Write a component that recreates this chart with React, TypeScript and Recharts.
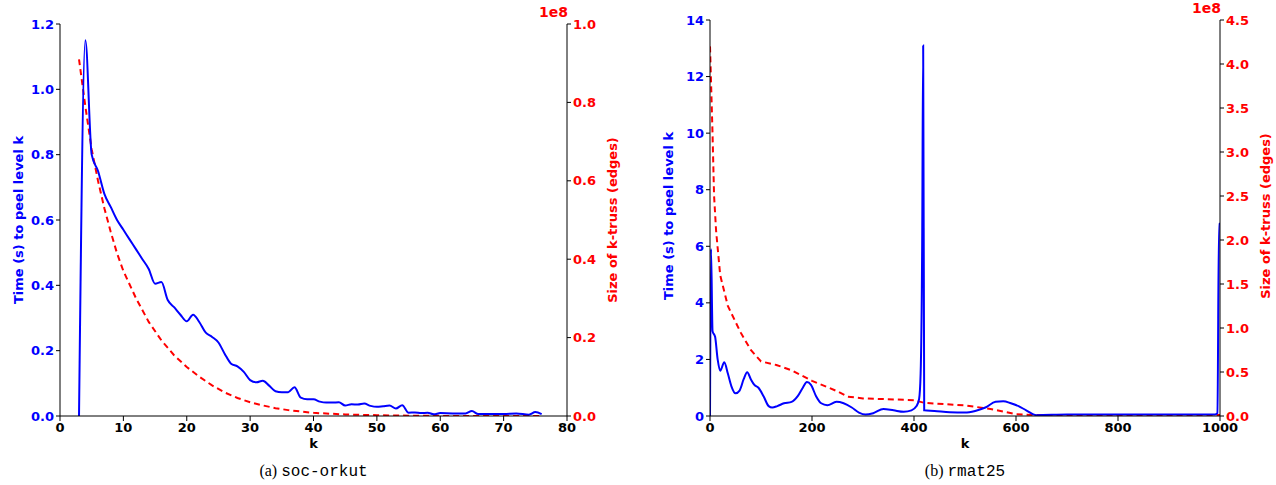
import { LineChart, Line, XAxis, YAxis } from 'recharts'

// (a) soc-orkut
const orkutK = [3, 4, 5, 6, 7, 8, 9, 10, 11, 12, 13, 14, 15, 16, 17, 18, 19, 20, 21, 22, 23, 24, 25, 26, 27, 28, 29, 30, 31, 32, 33, 34, 35, 36, 37, 38, 39, 40, 41, 42, 43, 44, 45, 46, 47, 48, 49, 50, 51, 52, 53, 54, 55, 56, 57, 58, 59, 60, 62, 64, 65, 66, 68, 70, 72, 74, 75, 76]
const orkutTime = [0, 1.15, 0.8, 0.75, 0.68, 0.64, 0.6, 0.57, 0.54, 0.51, 0.48, 0.45, 0.405, 0.41, 0.355, 0.333, 0.31, 0.29, 0.31, 0.287, 0.255, 0.242, 0.225, 0.19, 0.16, 0.152, 0.135, 0.11, 0.103, 0.108, 0.093, 0.076, 0.073, 0.073, 0.088, 0.056, 0.051, 0.051, 0.044, 0.041, 0.041, 0.042, 0.032, 0.036, 0.035, 0.038, 0.031, 0.028, 0.03, 0.032, 0.023, 0.033, 0.01, 0.011, 0.009, 0.01, 0.005, 0.009, 0.008, 0.008, 0.015, 0.006, 0.006, 0.006, 0.008, 0.004, 0.012, 0.006]
const orkutSizeK = [3, 4, 5, 6, 7, 8, 9, 10, 12, 14, 16, 18, 20, 22, 24, 26, 28, 30, 32, 34, 36, 40, 45, 50, 55, 60, 65, 70, 76]
const orkutSize = [0.91, 0.79, 0.68, 0.6, 0.53, 0.47, 0.415, 0.37, 0.3, 0.24, 0.193, 0.155, 0.125, 0.1, 0.078, 0.06, 0.046, 0.035, 0.027, 0.02, 0.015, 0.008, 0.004, 0.002, 0.0008, 0.0003, 0.0001, 0, 0]

// (b) rmat25
const rmatK = [0, 2, 5, 10, 15, 20, 28, 35, 42, 50, 58, 66, 73, 80, 87, 95, 105, 115, 122, 132, 145, 160, 172, 182, 190, 198, 208, 218, 230, 248, 262, 278, 292, 305, 320, 340, 360, 380, 395, 405, 410, 413, 416, 418, 420, 440, 470, 500, 520, 540, 560, 575, 590, 605, 620, 640, 700, 800, 900, 990, 995, 998, 1000]
const rmatTime = [0, 5.9, 3, 2.8, 2.0, 1.6, 1.9, 1.5, 1.05, 0.8, 0.9, 1.3, 1.55, 1.3, 1.1, 1.0, 0.7, 0.35, 0.3, 0.35, 0.45, 0.5, 0.7, 1.0, 1.2, 1.1, 0.7, 0.45, 0.38, 0.5, 0.45, 0.3, 0.12, 0.05, 0.1, 0.25, 0.2, 0.15, 0.2, 0.35, 0.6, 1.5, 6, 13.1, 0.2, 0.18, 0.13, 0.12, 0.18, 0.3, 0.5, 0.52, 0.45, 0.35, 0.2, 0.03, 0.05, 0.05, 0.05, 0.05, 0.1, 6.8, 6.8]
const rmatSizeK = [0, 5, 8, 12, 20, 35, 60, 80, 100, 130, 160, 200, 250, 270, 300, 400, 420, 500, 550, 600, 640, 1000]
const rmatSize = [4.2, 3.2, 2.5, 2.1, 1.6, 1.25, 0.95, 0.75, 0.62, 0.58, 0.52, 0.4, 0.28, 0.22, 0.2, 0.18, 0.15, 0.12, 0.08, 0.02, 0.01, 0.01]

const zip = (xs: number[], ys: number[]) => xs.map((k, i) => ({ k, v: ys[i] }))

const font = 'DejaVu Sans, sans-serif'
const tickStyle = { fontFamily: font, fontWeight: 'bold', fontSize: 13 }

type PanelProps = {
  left: number
  width: number
  top: number
  xMax: number
  xTicks: number[]
  lMax: number
  lTicks: number[]
  lDigits: number
  rMax: number
  rTicks: number[]
  time: { k: number; v: number }[]
  size: { k: number; v: number }[]
  rightW: number
  caption: string
}

function Panel(p: PanelProps) {
  return (
    <div style={{ position: 'absolute', left: p.left, top: 0, width: p.width, height: 485 }}>
      <LineChart width={p.width} height={440} margin={{ top: p.top, right: 0, bottom: 0, left: 0 }}>
        <XAxis
          xAxisId="b"
          dataKey="k"
          type="number"
          domain={[0, p.xMax]}
          ticks={p.xTicks}
          allowDataOverflow
          stroke="#000"
          tickSize={5}
          height={24}
          tick={{ ...tickStyle, fill: '#000' }}
        />
        <XAxis xAxisId="t" orientation="top" dataKey="k" type="number" domain={[0, p.xMax]} ticks={p.xTicks} tick={false} tickSize={-5} stroke="#000" height={0} />
        <YAxis
          yAxisId="l"
          domain={[0, p.lMax]}
          ticks={p.lTicks}
          width={60}
          stroke="#000"
          tickSize={4}
          allowDataOverflow
          tickFormatter={(v: number) => v.toFixed(p.lDigits)}
          tick={{ ...tickStyle, fill: '#0000ff' }}
        />
        <YAxis
          yAxisId="r"
          orientation="right"
          domain={[0, p.rMax]}
          ticks={p.rTicks}
          width={p.rightW}
          stroke="#000"
          tickSize={4}
          allowDataOverflow
          tickFormatter={(v: number) => v.toFixed(1)}
          tick={{ ...tickStyle, fill: '#ff0000' }}
        />
        <Line xAxisId="b" yAxisId="r" data={p.size} dataKey="v" stroke="#ff0000" strokeWidth={2} strokeDasharray="6 4" dot={false} isAnimationActive={false} />
        <Line xAxisId="b" yAxisId="l" data={p.time} dataKey="v" type="monotone" stroke="#0000ff" strokeWidth={2} dot={false} isAnimationActive={false} />
      </LineChart>
      <div style={{ position: 'absolute', left: 18, top: p.top + 196, transform: 'translate(-50%,-50%) rotate(-90deg)', whiteSpace: 'nowrap', color: '#0000ff', fontFamily: font, fontWeight: 'bold', fontSize: 13 }}>
        Time (s) to peel level k
      </div>
      <div style={{ position: 'absolute', left: p.width - p.rightW + 45, top: p.top + 196, transform: 'translate(-50%,-50%) rotate(-90deg)', whiteSpace: 'nowrap', color: '#ff0000', fontFamily: font, fontWeight: 'bold', fontSize: 13 }}>
        Size of k-truss (edges)
      </div>
      <div style={{ position: 'absolute', left: p.width - p.rightW - 28, top: p.top - 20, color: '#ff0000', fontFamily: font, fontWeight: 'bold', fontSize: 14 }}>1e8</div>
      <div style={{ position: 'absolute', left: 60, width: p.width - 60 - p.rightW, top: 436, textAlign: 'center', fontFamily: font, fontWeight: 'bold', fontSize: 13 }}>k</div>
      <div style={{ position: 'absolute', left: 60, width: p.width - 60 - p.rightW, top: 462, textAlign: 'center', fontFamily: 'Liberation Serif, serif', fontSize: 16 }}>
        {p.caption.split(' ')[0]} <span style={{ fontFamily: 'Liberation Mono, monospace' }}>{p.caption.split(' ')[1]}</span>
      </div>
    </div>
  )
}

export default function App() {
  return (
    <div style={{ position: 'absolute', left: 0, top: 0, width: 1276, height: 485, background: '#fff' }}>
      <Panel
        left={0}
        width={620}
        top={24}
        xMax={80}
        xTicks={[0, 10, 20, 30, 40, 50, 60, 70, 80]}
        lMax={1.2}
        lTicks={[0, 0.2, 0.4, 0.6, 0.8, 1.0, 1.2]}
        lDigits={1}
        rMax={1.0}
        rTicks={[0, 0.2, 0.4, 0.6, 0.8, 1.0]}
        rightW={53}
        time={zip(orkutK, orkutTime)}
        size={zip(orkutSizeK, orkutSize)}
        caption="(a) soc-orkut"
      />
      <Panel
        left={650}
        width={626}
        top={20}
        xMax={1000}
        xTicks={[0, 200, 400, 600, 800, 1000]}
        lMax={14}
        lTicks={[0, 2, 4, 6, 8, 10, 12, 14]}
        lDigits={0}
        rMax={4.5}
        rTicks={[0, 0.5, 1, 1.5, 2, 2.5, 3, 3.5, 4, 4.5]}
        rightW={56}
        time={zip(rmatK, rmatTime)}
        size={zip(rmatSizeK, rmatSize)}
        caption="(b) rmat25"
      />
    </div>
  )
}
